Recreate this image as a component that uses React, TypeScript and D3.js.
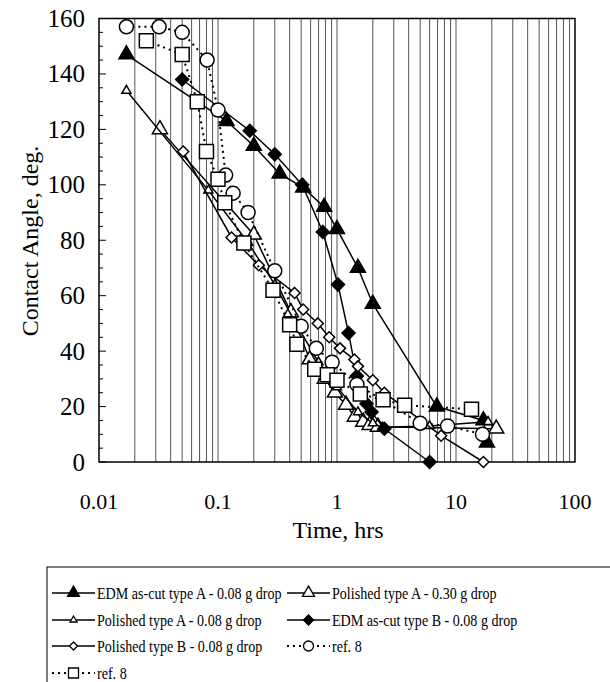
import React, { useRef, useEffect } from "react";
import * as d3 from "d3";

// [time (hrs), contact angle (deg)]
const edmA = [[0.017, 147], [0.118, 123], [0.2, 114], [0.33, 104], [0.52, 99], [0.78, 92], [1.0, 84], [1.5, 70], [2.0, 57], [6.9, 20], [17, 15], [18.2, 7]];
const polA30 = [[0.0325, 120], [0.2, 82], [0.41, 54], [0.59, 37], [0.79, 30], [0.96, 25], [1.19, 20.6], [1.41, 16.3], [1.66, 14.5], [1.88, 13.3], [2.21, 12.7], [21.8, 12]];
const polA08 = [[0.017, 134], [0.083, 98], [0.18, 79], [0.3, 64], [0.45, 50], [0.7, 36], [1.0, 27], [1.5, 18], [2.0, 14], [2.4, 12.5], [6.0, 13], [18.6, 14.5]];
const edmB = [[0.05, 138], [0.185, 119.5], [0.3, 111], [0.51, 100], [0.76, 83], [1.02, 64], [1.25, 46.5], [1.47, 31], [1.77, 21], [1.95, 18], [2.5, 12], [6.0, 0]];
const polB = [[0.051, 112], [0.13, 81], [0.22, 71], [0.44, 61], [0.52, 55], [0.69, 50], [0.86, 45], [1.06, 41], [1.4, 37], [1.5, 34.5], [2.0, 29.5], [2.5, 25], [7.5, 9.5], [17, 0]];
const ref8Circle = [[0.017, 157], [0.032, 157], [0.05, 155], [0.081, 145], [0.1, 127], [0.116, 103.5], [0.134, 97], [0.179, 90], [0.3, 69], [0.5, 49], [0.67, 41], [0.91, 36], [1.47, 28], [5.0, 14], [8.5, 13], [16.7, 10]];
const ref8Square = [[0.025, 152], [0.05, 147], [0.067, 130], [0.08, 112], [0.1, 102], [0.114, 93.5], [0.165, 79], [0.29, 62], [0.4, 49.5], [0.46, 42.5], [0.65, 33.5], [0.83, 31.5], [1.0, 29.5], [1.57, 24.5], [2.44, 22.5], [3.7, 20.5], [13.5, 19]];

const xTicks = [0.01, 0.1, 1, 10, 100];
const xTickLabels = ["0.01", "0.1", "1", "10", "100"];
const yTicks = [0, 20, 40, 60, 80, 100, 120, 140, 160];

const series = [
  { name: "EDM as-cut type A - 0.08 g drop", data: edmA, marker: "tri", size: 15, fill: "#000", dashed: false },
  { name: "Polished type A - 0.30 g drop", data: polA30, marker: "tri", size: 15, fill: "#fff", dashed: false },
  { name: "Polished type A - 0.08 g drop", data: polA08, marker: "tri", size: 9, fill: "#fff", dashed: false },
  { name: "EDM as-cut type B - 0.08 g drop", data: edmB, marker: "dia", size: 13, fill: "#000", dashed: false },
  { name: "Polished type B - 0.08 g drop", data: polB, marker: "dia", size: 11, fill: "#fff", dashed: false },
  { name: "ref. 8", data: ref8Circle, marker: "circle", size: 14, fill: "#fff", dashed: true },
  { name: "ref. 8", data: ref8Square, marker: "square", size: 14, fill: "#fff", dashed: true },
];

function markerPath(type, s) {
  const h = s / 2;
  if (type === "tri") {
    const hh = (s * Math.sqrt(3)) / 2;
    return `M0,${-hh * 2 / 3}L${h},${hh / 3}L${-h},${hh / 3}Z`;
  }
  if (type === "dia") return `M0,${-h}L${h},0L0,${h}L${-h},0Z`;
  if (type === "square") return `M${-h},${-h}H${h}V${h}H${-h}Z`;
  return d3.arc()({ innerRadius: 0, outerRadius: h, startAngle: 0, endAngle: 2 * Math.PI });
}

export default function App() {
  const svgRef = useRef(null);

  useEffect(() => {
    const svg = d3.select(svgRef.current);
    svg.selectAll("*").remove();
    const font = "'Liberation Serif', 'Times New Roman', serif";

    const x = d3.scaleLog().domain([0.01, 100]).range([99, 575]);
    const y = d3.scaleLinear().domain([0, 160]).range([462, 18.5]);

    // vertical grid at every log subdivision
    const grid = [];
    for (let e = -2; e < 2; e++) for (let m = 1; m < 10; m++) grid.push(m * Math.pow(10, e));
    svg.append("g")
      .selectAll("line")
      .data(grid.slice(1))
      .join("line")
      .attr("x1", d => x(d)).attr("x2", d => x(d))
      .attr("y1", y(0)).attr("y2", y(160))
      .attr("stroke", "#555")
      .attr("stroke-width", 1);

    // y ticks (inside)
    const yMinor = d3.range(0, 161, 5);
    svg.append("g")
      .selectAll("line")
      .data(yMinor)
      .join("line")
      .attr("x1", x(0.01)).attr("x2", d => x(0.01) + (d % 20 === 0 ? 7 : 4))
      .attr("y1", d => y(d)).attr("y2", d => y(d))
      .attr("stroke", "#000")
      .attr("stroke-width", 1);

    // frame
    svg.append("rect")
      .attr("x", x(0.01)).attr("y", y(160))
      .attr("width", x(100) - x(0.01)).attr("height", y(0) - y(160))
      .attr("fill", "none").attr("stroke", "#000").attr("stroke-width", 1.5);

    // tick labels
    svg.append("g")
      .selectAll("text")
      .data(yTicks)
      .join("text")
      .attr("x", 85).attr("y", d => y(d) + 8.5)
      .attr("text-anchor", "end")
      .style("font-family", font).style("font-size", "25px")
      .text(d => d);

    svg.append("g")
      .selectAll("text")
      .data(xTicks)
      .join("text")
      .attr("x", d => x(d)).attr("y", 509)
      .attr("text-anchor", "middle")
      .style("font-family", font).style("font-size", "22px")
      .text((d, i) => xTickLabels[i]);

    // axis titles
    svg.append("text")
      .attr("x", 338).attr("y", 538)
      .attr("text-anchor", "middle")
      .style("font-family", font).style("font-size", "24px")
      .text("Time, hrs");

    svg.append("text")
      .attr("transform", `translate(38, 241) rotate(-90)`)
      .attr("text-anchor", "middle")
      .style("font-family", font).style("font-size", "24px")
      .text("Contact Angle, deg.");

    // series
    const line = d3.line().x(d => x(d[0])).y(d => y(d[1]));
    series.forEach(s => {
      svg.append("path")
        .datum(s.data)
        .attr("d", line)
        .attr("fill", "none")
        .attr("stroke", "#000")
        .attr("stroke-width", s.dashed ? 2 : 1.5)
        .attr("stroke-dasharray", s.dashed ? "2,4" : null);
      svg.append("g")
        .selectAll("path")
        .data(s.data)
        .join("path")
        .attr("transform", d => `translate(${x(d[0])},${y(d[1])})`)
        .attr("d", markerPath(s.marker, s.size))
        .attr("fill", s.fill)
        .attr("stroke", "#000")
        .attr("stroke-width", 1.5);
    });

    // legend
    const lg = svg.append("g");
    lg.append("rect")
      .attr("x", 47).attr("y", 567)
      .attr("width", 700).attr("height", 300)
      .attr("fill", "none").attr("stroke", "#000").attr("stroke-width", 1);

    const colX = [52, 287];
    const rowY = [593, 620, 646, 673];
    series.forEach((s, i) => {
      const cx = colX[i % 2];
      const cy = rowY[Math.floor(i / 2)];
      lg.append("line")
        .attr("x1", cx).attr("x2", cx + 43)
        .attr("y1", cy).attr("y2", cy)
        .attr("stroke", "#000")
        .attr("stroke-width", s.dashed ? 2 : 1.5)
        .attr("stroke-dasharray", s.dashed ? "2,4" : null);
      const ms = s.marker === "tri" && s.size > 10 ? 12 : s.size > 12 ? 10 : 8;
      lg.append("path")
        .attr("transform", `translate(${cx + 21.5},${cy})`)
        .attr("d", markerPath(s.marker, s.marker === "tri" && s.size < 10 ? 7 : ms))
        .attr("fill", s.fill)
        .attr("stroke", "#000")
        .attr("stroke-width", 1.3);
      lg.append("text")
        .attr("transform", `translate(${cx + 45},${cy + 5.5}) scale(0.88,1)`)
        .style("font-family", font).style("font-size", "16px")
        .text(s.name);
    });
  }, []);

  return (
    <svg
      ref={svgRef}
      width={610}
      height={682}
      style={{ position: "absolute", left: 0, top: 0, display: "block" }}
    ></svg>
  );
}
